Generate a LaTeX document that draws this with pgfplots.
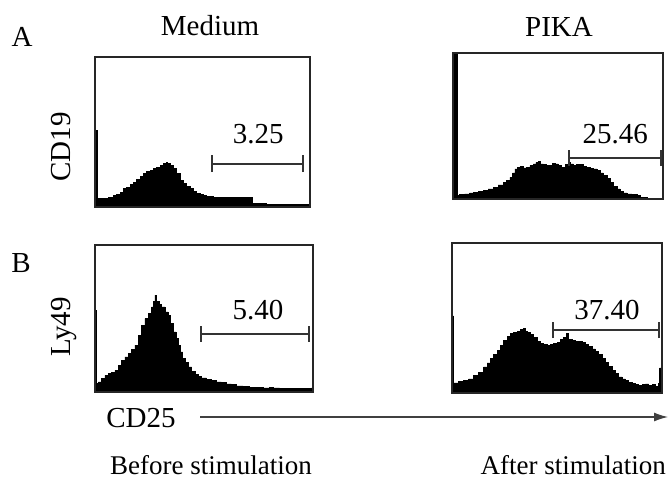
\documentclass[border=0pt]{standalone}
\usepackage{pgfplots}
\pgfplotsset{compat=1.18}
\usepackage{fontspec}
\setmainfont{Liberation Serif}
\usetikzlibrary{arrows.meta}
\pgfplotsset{
  hist/.style={scale only axis, xtick=\empty, ytick=\empty,
    axis line style={line width=1.6pt, black!85}, axis on top, clip=true, ymin=0},
  histfill/.style={const plot, fill=black, draw=black, line width=0.6pt},
  gate/.style={line width=2pt, black!80},
}
\newcommand\lbl{\fontsize{29}{34}\selectfont}
\begin{document}
\begin{tikzpicture}[x=1pt,y=1pt]
\useasboundingbox (0,0) rectangle (668,-482);
% ---------------- A, Medium
\begin{axis}[hist, at={(95pt,-57pt)}, anchor=north west, width=215pt, height=150pt,
  xmin=45, xmax=690, ymax=450]
\addplot[histfill] coordinates {(45,0)(45,230)(52,230)(52,25)(70,25)(85,28)(100,35)(110,38)(120,45)(130,55)(140,60)(150,68)(160,75)(170,82)(180,92)(190,100)(200,108)(210,110)(220,115)(230,120)(240,125)(250,130)(258,135)(262,132)(270,125)(280,115)(290,100)(300,80)(310,70)(320,62)(330,55)(340,48)(350,42)(360,38)(370,35)(380,32)(400,30)(420,28)(440,28)(460,30)(470,28)(480,30)(500,30)(515,30)(518,10)(560,8)(600,8)(650,7)(690,7)(690,0)} \closedcycle;
\addplot[gate] coordinates {(395,130)(668,130)};
\addplot[gate] coordinates {(395,105)(395,155)};
\addplot[gate] coordinates {(668,105)(668,155)};
\node[font=\lbl] at (axis cs:535,220) {3.25};
\end{axis}
% ---------------- A, PIKA
\begin{axis}[hist, at={(453pt,-53pt)}, anchor=north west, width=210pt, height=146pt,
  xmin=40, xmax=668, ymax=437]
\addplot[histfill] coordinates {(40,0)(40,437)(52,437)(52,10)(60,13)(75,15)(90,18)(100,20)(115,22)(130,25)(145,30)(160,35)(175,42)(190,50)(200,55)(210,65)(218,78)(225,90)(232,95)(240,97)(250,93)(260,95)(270,100)(280,105)(288,110)(295,113)(302,105)(310,103)(320,100)(330,100)(338,107)(345,105)(355,100)(365,95)(375,103)(385,110)(392,105)(400,100)(410,103)(420,103)(430,98)(440,95)(450,92)(460,90)(470,85)(480,78)(490,70)(500,62)(510,50)(520,38)(530,30)(540,22)(550,18)(560,15)(575,13)(590,10)(600,5)(620,3)(668,2)(668,0)} \closedcycle;
\addplot[gate] coordinates {(388,123)(662,123)};
\addplot[gate] coordinates {(388,100)(388,146)};
\addplot[gate] coordinates {(662,100)(662,146)};
\node[font=\lbl] at (axis cs:525,195) {25.46};
\end{axis}
% ---------------- B, Medium
\begin{axis}[hist, at={(95pt,-245pt)}, anchor=north west, width=218pt, height=147pt,
  xmin=45, xmax=700, ymax=440]
\addplot[histfill] coordinates {(45,0)(45,245)(48,245)(48,25)(55,30)(65,40)(75,50)(85,55)(95,58)(105,65)(115,80)(125,95)(135,105)(145,115)(155,128)(165,140)(175,170)(185,200)(195,220)(205,235)(215,255)(220,270)(225,290)(230,270)(238,262)(245,255)(255,240)(265,230)(272,205)(280,180)(288,160)(295,140)(300,120)(308,100)(315,88)(325,75)(335,62)(345,52)(355,47)(365,42)(380,38)(395,35)(410,30)(425,28)(440,24)(455,22)(470,18)(490,16)(510,14)(530,14)(550,12)(570,14)(580,12)(600,10)(640,10)(680,10)(695,12)(700,15)(700,0)} \closedcycle;
\addplot[gate] coordinates {(362,175)(688,175)};
\addplot[gate] coordinates {(362,151)(362,199)};
\addplot[gate] coordinates {(688,151)(688,199)};
\node[font=\lbl] at (axis cs:535,245) {5.40};
\end{axis}
% ---------------- B, PIKA
\begin{axis}[hist, at={(452pt,-243pt)}, anchor=north west, width=210pt, height=150pt,
  xmin=35, xmax=665, ymax=448]
\addplot[histfill] coordinates {(35,0)(35,230)(40,230)(40,30)(55,35)(70,38)(85,42)(100,52)(115,62)(130,78)(140,90)(150,103)(160,115)(170,128)(180,142)(190,158)(200,168)(210,178)(220,182)(230,185)(240,190)(248,193)(255,185)(262,180)(270,175)(280,165)(290,155)(300,148)(310,145)(320,143)(330,145)(340,148)(350,152)(360,160)(370,165)(378,178)(385,160)(395,158)(405,155)(415,153)(425,150)(435,145)(445,140)(455,132)(465,125)(475,115)(485,103)(495,92)(505,80)(515,68)(525,58)(535,48)(545,42)(555,38)(565,32)(575,28)(585,25)(595,22)(605,25)(615,27)(625,23)(635,25)(645,20)(655,28)(658,75)(665,75)(665,0)} \closedcycle;
\addplot[gate] coordinates {(338,188)(655,188)};
\addplot[gate] coordinates {(338,164)(338,212)};
\addplot[gate] coordinates {(655,164)(655,212)};
\node[font=\lbl] at (axis cs:500,248) {37.40};
\end{axis}
% ---------------- text
\node[font=\lbl] at (22,-37) {A};
\node[font=\lbl] at (210,-26) {Medium};
\node[font=\lbl] at (559,-27) {PIKA};
\node[font=\lbl] at (21,-263) {B};
\node[font=\lbl, rotate=90, anchor=base] at (70,-147) {CD19};
\node[font=\lbl, rotate=90, anchor=base] at (70,-327) {Ly49};
\node[font=\lbl] at (141,-418) {CD25};
\draw[line width=1.3pt, black!75, -{Latex[length=14pt,width=9pt]}] (200,-417) -- (668,-417);
\node[font=\fontsize{27}{32}\selectfont, inner sep=1pt] at (211,-465) {Before stimulation};
\node[font=\fontsize{27}{32}\selectfont, anchor=east, inner sep=1pt] at (667,-465) {After stimulation};
\end{tikzpicture}
\end{document}
